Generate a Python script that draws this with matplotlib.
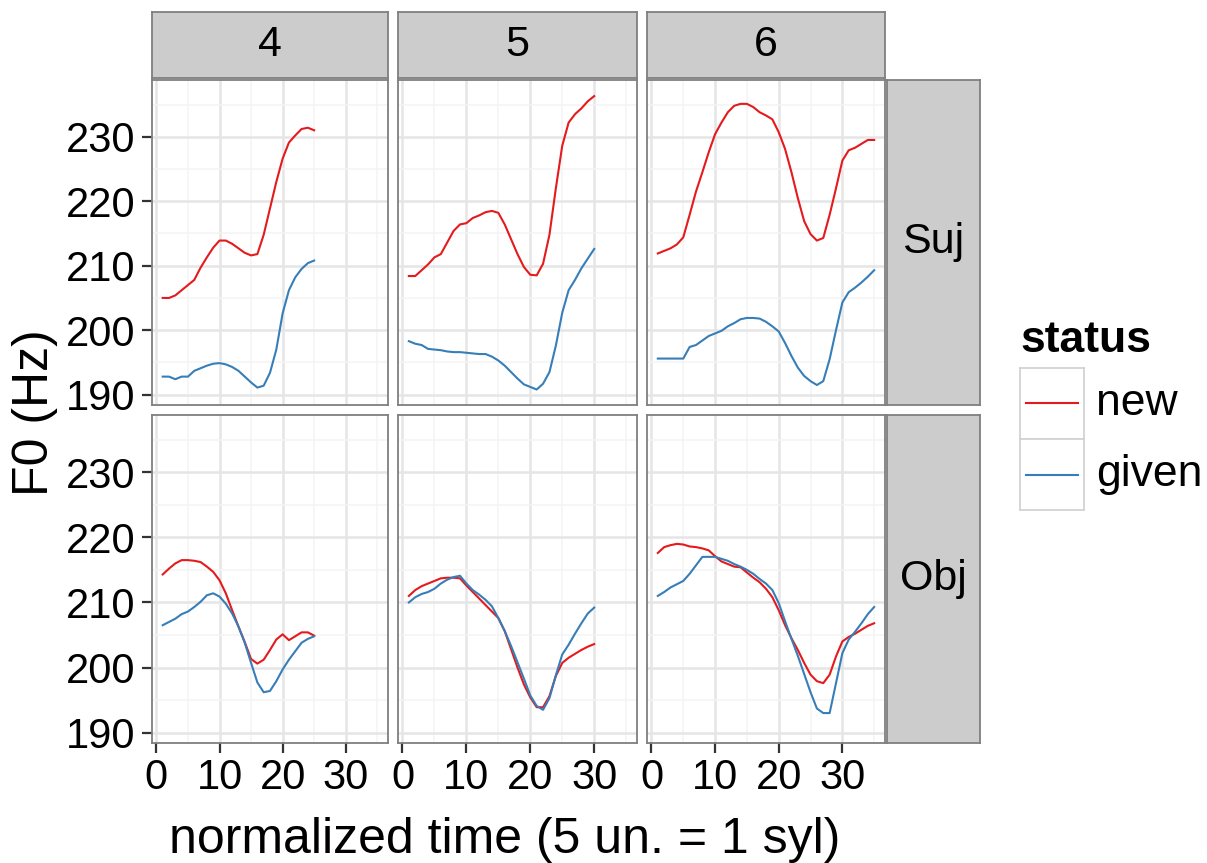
import numpy as np
import matplotlib
matplotlib.use("Agg")
import matplotlib.pyplot as plt

plt.rcParams['font.family'] = ['Liberation Sans', 'DejaVu Sans']

# ---- data (F0 in Hz) ----
syllables = ["4", "5", "6"]
positions = ["Suj", "Obj"]

suj4_new = [205.0, 205.0, 205.4, 206.2, 207.0, 207.8, 209.7, 211.3, 212.8, 213.9, 213.9, 213.4,
            212.7, 212.0, 211.6, 211.8, 214.8, 218.9, 223.0, 226.6, 229.1, 230.2, 231.2, 231.4, 231.0]
suj4_given = [192.8, 192.8, 192.4, 192.8, 192.8, 193.7, 194.1, 194.5, 194.8, 194.9, 194.7, 194.3,
              193.7, 192.8, 191.9, 191.1, 191.4, 193.4, 197.0, 202.6, 206.2, 208.2, 209.5, 210.4, 210.8]
suj5_new = [208.4, 208.4, 209.3, 210.2, 211.3, 211.8, 213.6, 215.4, 216.4, 216.6, 217.4, 217.8,
            218.3, 218.5, 218.2, 216.4, 214.1, 211.8, 209.8, 208.6, 208.5, 210.3, 214.8, 222.0,
            228.6, 232.2, 233.5, 234.4, 235.5, 236.3]
suj5_given = [198.3, 197.9, 197.7, 197.1, 197.0, 196.9, 196.7, 196.6, 196.6, 196.5, 196.4, 196.3,
              196.3, 195.9, 195.3, 194.5, 193.5, 192.5, 191.6, 191.2, 190.8, 191.7, 193.5, 197.6,
              202.7, 206.2, 207.8, 209.6, 211.1, 212.6]
suj6_new = [211.9, 212.3, 212.7, 213.3, 214.4, 217.9, 221.5, 224.5, 227.6, 230.4, 232.2, 233.8,
            234.8, 235.1, 235.1, 234.6, 233.8, 233.3, 232.7, 230.7, 228.1, 224.5, 220.5, 216.9,
            214.9, 213.9, 214.3, 217.9, 222.0, 226.3, 227.9, 228.3, 228.9, 229.5, 229.5]
suj6_given = [195.6, 195.6, 195.6, 195.6, 195.6, 197.4, 197.7, 198.4, 199.1, 199.5, 199.9, 200.6,
              201.1, 201.7, 201.9, 201.9, 201.8, 201.3, 200.6, 199.8, 198.0, 196.0, 194.2, 192.9,
              192.1, 191.5, 192.1, 195.5, 200.0, 204.3, 205.9, 206.6, 207.4, 208.3, 209.3]

obj4_new = [214.3, 215.2, 216.0, 216.5, 216.5, 216.4, 216.2, 215.5, 214.7, 213.4, 211.4, 208.8,
            206.3, 203.9, 201.3, 200.6, 201.2, 202.7, 204.3, 205.1, 204.2, 204.8, 205.4, 205.4, 204.9]
obj4_given = [206.5, 207.0, 207.5, 208.2, 208.6, 209.3, 210.1, 211.1, 211.4, 210.9, 209.8, 208.3,
              206.3, 203.8, 200.7, 197.7, 196.2, 196.4, 197.9, 199.7, 201.2, 202.5, 203.8, 204.4, 204.8]
obj5_new = [211.0, 211.9, 212.5, 212.9, 213.3, 213.7, 213.8, 213.8, 213.7, 212.6, 211.6, 210.6,
            209.6, 208.6, 207.6, 205.6, 202.8, 200.0, 197.4, 195.4, 193.9, 193.9, 195.6, 198.7,
            200.7, 201.5, 202.1, 202.7, 203.2, 203.6]
obj5_given = [210.0, 210.8, 211.3, 211.6, 212.1, 212.9, 213.5, 213.9, 214.1, 212.9, 211.9, 211.2,
              210.4, 209.4, 207.6, 205.6, 203.3, 200.8, 198.3, 195.7, 194.1, 193.5, 195.3, 198.8,
              202.0, 203.5, 205.2, 206.8, 208.3, 209.2]
obj6_new = [217.6, 218.5, 218.8, 219.0, 218.9, 218.6, 218.5, 218.3, 218.0, 217.1, 216.3, 215.9,
            215.5, 215.4, 214.6, 213.8, 213.1, 212.1, 210.8, 208.8, 206.5, 204.5, 202.7, 200.7,
            198.9, 197.9, 197.6, 198.9, 201.7, 204.0, 204.7, 205.2, 205.8, 206.4, 206.8]
obj6_given = [211.0, 211.6, 212.3, 212.8, 213.3, 214.4, 215.7, 217.0, 217.0, 217.0, 216.7, 216.4,
              215.9, 215.5, 215.0, 214.4, 213.6, 212.9, 211.9, 209.9, 207.1, 204.4, 201.8, 199.0,
              196.2, 193.7, 193.0, 193.0, 197.6, 202.2, 204.3, 205.5, 206.8, 208.2, 209.3]

status_labels = ["new", "given"]
status_colors = ["#E41A1C", "#377EB8"]

panels = {
    ("Suj", "4"): (suj4_new, suj4_given), ("Suj", "5"): (suj5_new, suj5_given),
    ("Suj", "6"): (suj6_new, suj6_given), ("Obj", "4"): (obj4_new, obj4_given),
    ("Obj", "5"): (obj5_new, obj5_given), ("Obj", "6"): (obj6_new, obj6_given),
}

# ---- layout (pixel boxes converted to figure fractions) ----
W, H = 1207, 863
fig = plt.figure(figsize=(W / 100, H / 100), dpi=100)

def box(x0, y0, x1, y1):
    return [x0 / W, 1 - y1 / H, (x1 - x0) / W, (y1 - y0) / H]

col_x = [(152, 388), (398, 637), (647, 885)]
row_y = [(80, 405), (415, 743)]
border = "#7F7F7F"
strip_fc = "#CCCCCC"
big = 30

def style_box(ax):
    for s in ax.spines.values():
        s.set_color(border)
        s.set_linewidth(1.3)

for r, pos in enumerate(positions):
    for c, syl in enumerate(syllables):
        ax = fig.add_axes(box(col_x[c][0], row_y[r][0], col_x[c][1], row_y[r][1]))
        new, given = panels[(pos, syl)]
        for vals, lab, col in zip((new, given), status_labels, status_colors):
            t = np.arange(1, len(vals) + 1)
            ax.plot(t, vals, color=col, lw=1.5, label=lab)
        ax.set_xlim(-0.7, 36.7)
        ax.set_ylim(188.4, 238.8)
        ax.set_xticks([0, 10, 20, 30])
        ax.set_xticks([5, 15, 25, 35], minor=True)
        ax.set_yticks([190, 200, 210, 220, 230])
        ax.set_yticks([195, 205, 215, 225, 235], minor=True)
        ax.grid(True, which="major", color="#E5E5E5", lw=1.8)
        ax.grid(True, which="minor", color="#F4F4F4", lw=1.1)
        ax.set_axisbelow(True)
        ax.tick_params(which="minor", length=0)
        ax.tick_params(which="major", length=7, width=1.6, color="#333333",
                       labelsize=big)
        ax.tick_params(axis="y", pad=5)
        ax.tick_params(axis="x", pad=4)
        if c != 0:
            ax.tick_params(axis="y", left=False, labelleft=False)
        if r != 1:
            ax.tick_params(axis="x", bottom=False, labelbottom=False)
        style_box(ax)

# top strips
for c, syl in enumerate(syllables):
    sa = fig.add_axes(box(col_x[c][0], 12, col_x[c][1], 78))
    sa.set_facecolor(strip_fc)
    sa.set_xticks([]); sa.set_yticks([])
    style_box(sa)
    sa.text(0.5, 0.5, syl, ha="center", va="center", fontsize=31, transform=sa.transAxes)

# right strips
for r, pos in enumerate(positions):
    sa = fig.add_axes(box(887, row_y[r][0], 980, row_y[r][1]))
    sa.set_facecolor(strip_fc)
    sa.set_xticks([]); sa.set_yticks([])
    style_box(sa)
    sa.text(0.5, 0.5, pos, ha="center", va="center", fontsize=31, transform=sa.transAxes)

# axis titles
fig.text(35 / W, 1 - 413 / H, "F0 (Hz)", rotation=90, ha="center", va="center", fontsize=36)
fig.text(505 / W, 1 - 853 / H, "normalized time (5 un. = 1 syl)", ha="center", va="baseline",
         fontsize=36)

# legend
fig.text(1020 / W, 1 - 352 / H, "status", ha="left", va="baseline", fontsize=32,
         fontweight="bold")
key_y = [(368, 439), (439, 510)]
for (y0, y1), lab, col in zip(key_y, status_labels, status_colors):
    ka = fig.add_axes(box(1020, y0, 1084, y1))
    ka.plot([0.1, 0.9], [0.5, 0.5], color=col, lw=1.5)
    ka.set_xlim(0, 1); ka.set_ylim(0, 1)
    ka.set_xticks([]); ka.set_yticks([])
    for s in ka.spines.values():
        s.set_color("#D0D0D0")
        s.set_linewidth(1.2)
    fig.text(1096 / W, 1 - (y0 + y1) / 2 / H, lab, ha="left", va="center", fontsize=32)

fig.savefig("out.png", dpi=100)
